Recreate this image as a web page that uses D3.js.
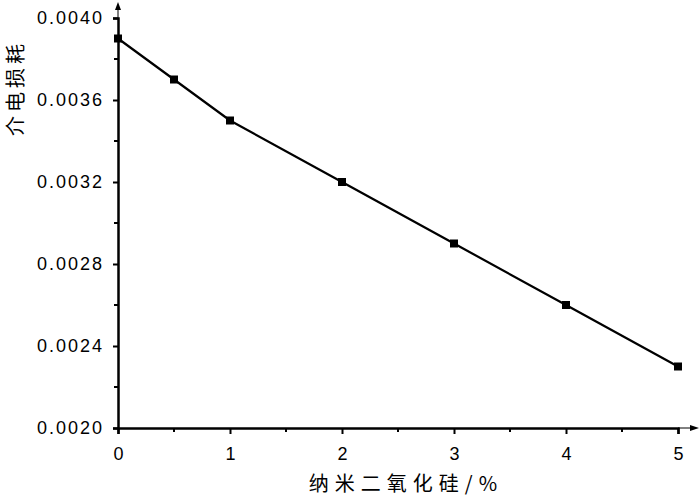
<!DOCTYPE html>
<html>
<head>
<meta charset="utf-8">
<script src="https://cdn.jsdelivr.net/npm/d3@7"></script>
<style>
  body { margin: 0; background: #fff; }
  svg text { fill: #000; }
</style>
</head>
<body>
<div class="canvas"></div>
<script>
// data
const silica = [0, 0.5, 1, 2, 3, 4, 5];
const loss = [0.0039, 0.0037, 0.0035, 0.0032, 0.0029, 0.0026, 0.0023];
const xTicks = [0, 1, 2, 3, 4, 5];
const yTicks = [0.0020, 0.0024, 0.0028, 0.0032, 0.0036, 0.0040];

const width = 700;
const height = 498;
const margin = { top: 18, right: 22, bottom: 70, left: 118 };
const graphWidth = width - margin.left - margin.right;
const graphHeight = height - margin.top - margin.bottom;

const svg = d3.select('.canvas')
  .append('svg')
  .attr('width', width)
  .attr('height', height);

const graph = svg.append('g')
  .attr('transform', `translate(${margin.left}, ${margin.top})`);

// scales
const x = d3.scaleLinear().domain([0, 5]).range([0, 560]);
const y = d3.scaleLinear().domain([0.0020, 0.0040]).range([graphHeight, 0]);

const font = 'Liberation Sans, Arial, sans-serif';

// axis extensions with arrows
graph.append('line')
  .attr('x1', x(5)).attr('x2', 576)
  .attr('y1', graphHeight).attr('y2', graphHeight)
  .attr('stroke', '#000').attr('stroke-width', 1);
graph.append('path')
  .attr('d', `M581,${graphHeight} L572,${graphHeight - 3} L572,${graphHeight + 3} Z`)
  .attr('fill', '#000');

graph.append('line')
  .attr('x1', 0).attr('x2', 0)
  .attr('y1', 0).attr('y2', -10)
  .attr('stroke', '#000').attr('stroke-width', 1);
graph.append('path')
  .attr('d', 'M0,-16 L-3,-8 L3,-8 Z')
  .attr('fill', '#000');

// axes
const xAxis = d3.axisBottom(x)
  .tickValues(xTicks)
  .tickFormat(d3.format('d'))
  .tickSize(6)
  .tickPadding(13);

const yAxis = d3.axisLeft(y)
  .tickValues(yTicks)
  .tickFormat(d3.format('.4f'))
  .tickSize(5)
  .tickPadding(9);

const xAxisGroup = graph.append('g')
  .attr('transform', `translate(0, ${graphHeight})`)
  .call(xAxis);

const yAxisGroup = graph.append('g')
  .call(yAxis);

[xAxisGroup, yAxisGroup].forEach(g => {
  g.select('.domain').attr('stroke-width', 2.5).attr('stroke', '#000');
  g.selectAll('.tick line').attr('stroke-width', 2).attr('stroke', '#000');
  g.selectAll('.tick text')
    .attr('font-family', font)
    .attr('font-size', 18)
    .attr('fill', '#000');
});
yAxisGroup.selectAll('.tick text').attr('letter-spacing', 2);

// minor ticks
const xMinor = [0.5, 1.5, 2.5, 3.5, 4.5];
graph.append('g').selectAll('line')
  .data(xMinor)
  .enter().append('line')
  .attr('x1', d => x(d)).attr('x2', d => x(d))
  .attr('y1', graphHeight).attr('y2', graphHeight + 4)
  .attr('stroke', '#000').attr('stroke-width', 2);

const yMinor = [0.0022, 0.0026, 0.0030, 0.0034, 0.0038];
graph.append('g').selectAll('line')
  .data(yMinor)
  .enter().append('line')
  .attr('x1', 0).attr('x2', -4)
  .attr('y1', d => y(d)).attr('y2', d => y(d))
  .attr('stroke', '#000').attr('stroke-width', 2);

// line
const points = silica.map((s, i) => ({ s: s, v: loss[i] }));

const line = d3.line()
  .x(d => x(d.s))
  .y(d => y(d.v));

graph.append('path')
  .datum(points)
  .attr('fill', 'none')
  .attr('stroke', '#000')
  .attr('stroke-width', 2.2)
  .attr('d', line);

graph.selectAll('rect.pt')
  .data(points)
  .enter().append('rect')
  .attr('class', 'pt')
  .attr('x', d => x(d.s) - 4)
  .attr('y', d => y(d.v) - 4)
  .attr('width', 8)
  .attr('height', 8)
  .attr('fill', '#000');

// axis titles
svg.append('text')
  .text('纳米二氧化硅/%')
  .attr('x', 406)
  .attr('y', 491)
  .attr('text-anchor', 'middle')
  .attr('font-family', 'Noto Sans CJK SC')
  .attr('font-size', 20)
  .attr('letter-spacing', 6);

svg.append('text')
  .text('介电损耗')
  .attr('transform', 'translate(23, 88) rotate(-90)')
  .attr('text-anchor', 'middle')
  .attr('font-family', 'Noto Sans CJK SC')
  .attr('font-size', 20)
  .attr('letter-spacing', 4);
</script>
</body>
</html>
